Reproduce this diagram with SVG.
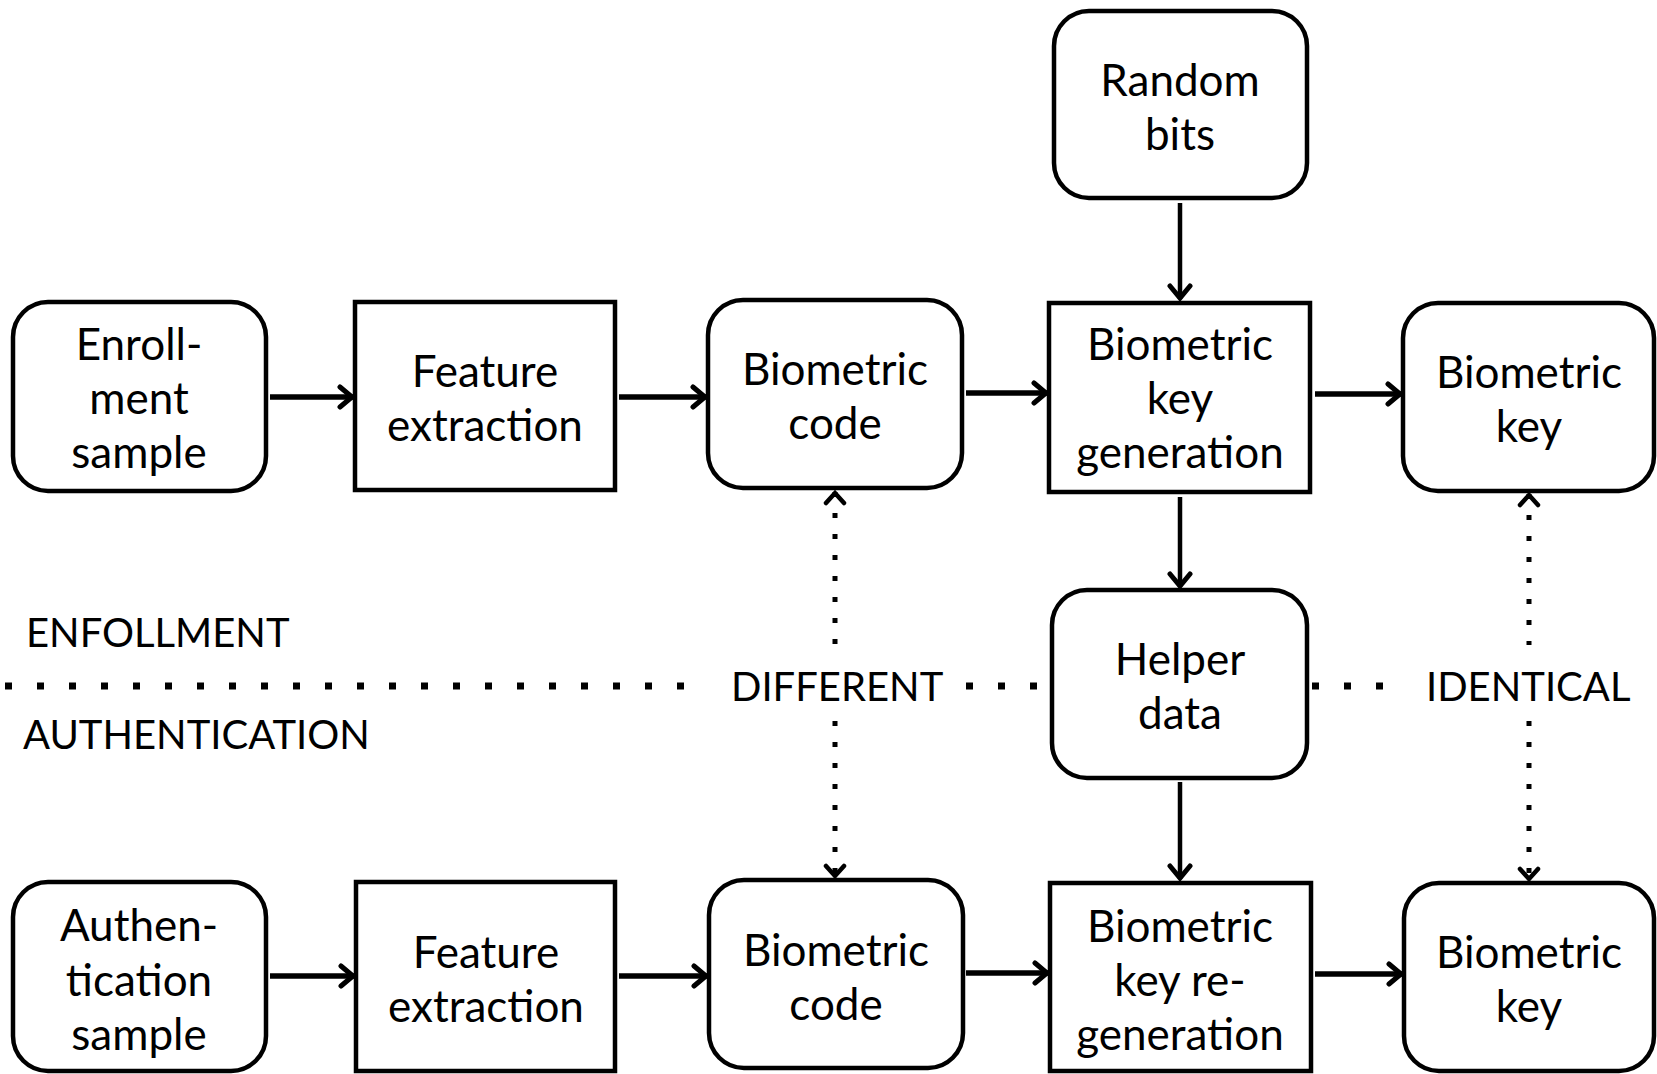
<svg xmlns="http://www.w3.org/2000/svg" width="1657" height="1074" viewBox="0 0 1657 1074">
<style>
.box{fill:#fff;stroke:#000;stroke-width:4.5}
.t{font-family:Lato,"Open Sans",sans-serif;font-size:44px;fill:#000;text-anchor:middle}
.lbl{font-family:Lato,"Open Sans",sans-serif;font-size:40px;fill:#000}
.a{stroke:#000;stroke-width:5.5;fill:none}
.v{stroke:#000;stroke-width:4.5;fill:none}
.d{stroke:#000;stroke-width:5;fill:none;stroke-dasharray:5 16}
.h{stroke:#000;stroke-width:7;fill:none;stroke-dasharray:7 25}
</style>
<defs>
<marker id="ah" viewBox="0 0 20 26" refX="16" refY="13" markerWidth="20" markerHeight="26" orient="auto-start-reverse" markerUnits="userSpaceOnUse">
<path d="M3,3 L15,13 L3,23" fill="none" stroke="#000" stroke-width="5" stroke-linecap="round"/>
</marker>
<marker id="ahs" viewBox="0 0 18 24" refX="14" refY="12" markerWidth="18" markerHeight="24" orient="auto-start-reverse" markerUnits="userSpaceOnUse">
<path d="M3,3 L13,12 L3,21" fill="none" stroke="#000" stroke-width="4.5" stroke-linecap="round"/>
</marker>
</defs>
<g id="connectors">
<line class="a" x1="270" y1="397" x2="353" y2="397" marker-end="url(#ah)"/>
<line class="a" x1="619" y1="397" x2="706" y2="397" marker-end="url(#ah)"/>
<line class="a" x1="966" y1="393" x2="1047" y2="393" marker-end="url(#ah)"/>
<line class="a" x1="1315" y1="394" x2="1401" y2="394" marker-end="url(#ah)"/>
<line class="a" x1="270" y1="976" x2="354" y2="976" marker-end="url(#ah)"/>
<line class="a" x1="619" y1="976" x2="707" y2="976" marker-end="url(#ah)"/>
<line class="a" x1="966" y1="973" x2="1048" y2="973" marker-end="url(#ah)"/>
<line class="a" x1="1315" y1="974" x2="1402" y2="974" marker-end="url(#ah)"/>
<line class="v" x1="1180" y1="203" x2="1180" y2="299" marker-end="url(#ah)"/>
<line class="v" x1="1180" y1="497" x2="1180" y2="587" marker-end="url(#ah)"/>
<line class="v" x1="1180" y1="782" x2="1180" y2="879" marker-end="url(#ah)"/>
<line class="d" x1="835" y1="492" x2="835" y2="645" marker-start="url(#ahs)"/>
<line class="d" x1="835" y1="721" x2="835" y2="877" marker-end="url(#ahs)"/>
<line class="d" x1="1529" y1="494" x2="1529" y2="645" marker-start="url(#ahs)"/>
<line class="d" x1="1529" y1="721" x2="1529" y2="880" marker-end="url(#ahs)"/>
<line class="h" x1="5" y1="686" x2="708" y2="686"/>
<line class="h" x1="966" y1="686" x2="1045" y2="686"/>
<line class="h" x1="1312" y1="686" x2="1405" y2="686"/>
</g>
<g id="enroll-sample"><rect class="box" x="13" y="302" width="253" height="189" rx="35"/>
<text class="t" x="139" y="360">Enroll-</text><text class="t" x="139" y="414">ment</text><text class="t" x="139" y="468">sample</text></g>
<g id="feature-top"><rect class="box" x="355" y="302" width="260" height="188"/>
<text class="t" x="485" y="387">Feature</text><text class="t" x="485" y="441">extraction</text></g>
<g id="code-top"><rect class="box" x="708" y="300" width="254" height="188" rx="35"/>
<text class="t" x="835" y="385">Biometric</text><text class="t" x="835" y="439">code</text></g>
<g id="keygen"><rect class="box" x="1049" y="303" width="261" height="189"/>
<text class="t" x="1180" y="360">Biometric</text><text class="t" x="1180" y="414">key</text><text class="t" x="1180" y="468">generation</text></g>
<g id="key-top"><rect class="box" x="1403" y="303" width="251" height="188" rx="35"/>
<text class="t" x="1529" y="388">Biometric</text><text class="t" x="1529" y="442">key</text></g>
<g id="random"><rect class="box" x="1054" y="11" width="253" height="187" rx="35"/>
<text class="t" x="1180" y="96">Random</text><text class="t" x="1180" y="150">bits</text></g>
<g id="helper"><rect class="box" x="1052" y="590" width="255" height="188" rx="35"/>
<text class="t" x="1180" y="675">Helper</text><text class="t" x="1180" y="729">data</text></g>
<g id="auth-sample"><rect class="box" x="13" y="882" width="253" height="189" rx="35"/>
<text class="t" x="139" y="941">Authen-</text><text class="t" x="139" y="996">tication</text><text class="t" x="139" y="1050">sample</text></g>
<g id="feature-bottom"><rect class="box" x="356" y="882" width="259" height="189"/>
<text class="t" x="486" y="968">Feature</text><text class="t" x="486" y="1022">extraction</text></g>
<g id="code-bottom"><rect class="box" x="709" y="880" width="254" height="188" rx="35"/>
<text class="t" x="836" y="966">Biometric</text><text class="t" x="836" y="1020">code</text></g>
<g id="keyregen"><rect class="box" x="1050" y="883" width="261" height="188"/>
<text class="t" x="1180" y="942">Biometric</text><text class="t" x="1180" y="996">key re-</text><text class="t" x="1180" y="1050">generation</text></g>
<g id="key-bottom"><rect class="box" x="1404" y="883" width="250" height="188" rx="35"/>
<text class="t" x="1529" y="968">Biometric</text><text class="t" x="1529" y="1022">key</text></g>
<g id="labels">
<text class="lbl" x="26" y="647">ENFOLLMENT</text>
<text class="lbl" x="23" y="749">AUTHENTICATION</text>
<text class="lbl" x="731" y="701">DIFFERENT</text>
<text class="lbl" x="1426" y="701">IDENTICAL</text>
</g>
</svg>
